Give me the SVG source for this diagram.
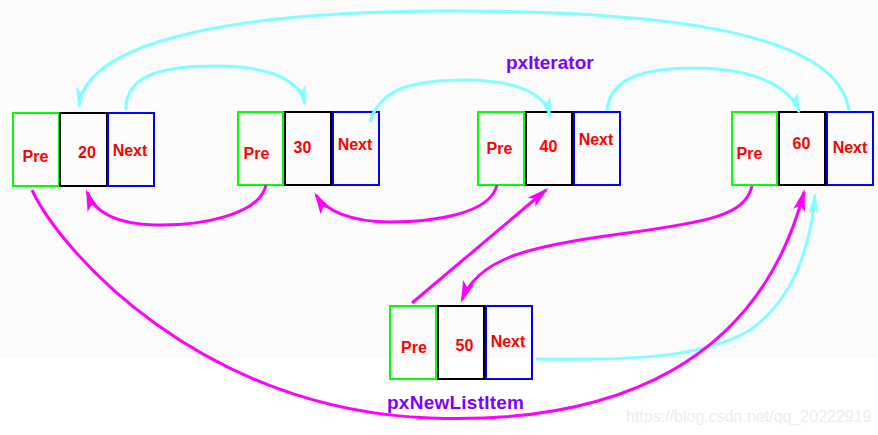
<svg xmlns="http://www.w3.org/2000/svg" width="878" height="435" viewBox="0 0 878 435">
<style>
.pre{fill:none;stroke:#00ff00;stroke-width:2}
.val{fill:none;stroke:#000000;stroke-width:2}
.nxt{fill:none;stroke:#0000ff;stroke-width:2}
.t{font-family:"Liberation Sans",Arial,sans-serif;font-size:16px;font-weight:bold;fill:#ff0000;text-anchor:middle}
.lbl{font-family:"Liberation Sans",Arial,sans-serif;font-size:19px;font-weight:bold;fill:#8000ff}
.wm{font-family:"Liberation Sans",Arial,sans-serif;font-size:16px;fill:#ededed}
.c{fill:none;stroke:#80ffff;stroke-width:3}
.m{fill:none;stroke:#ff00ff;stroke-width:3}
</style>
<defs>
<marker id="ac" viewBox="0 0 22 10" refX="19" refY="5" markerWidth="22" markerHeight="10" markerUnits="userSpaceOnUse" orient="auto">
<path d="M22,5 L0,0 L5,5 L0,10 Z" fill="#80ffff"/>
</marker>
<marker id="am" viewBox="0 0 22 12" refX="19" refY="6" markerWidth="22" markerHeight="12" markerUnits="userSpaceOnUse" orient="auto">
<path d="M22,6 L0,0 L5,6 L0,12 Z" fill="#ff00ff"/>
</marker>
</defs>
<rect x="0" y="0" width="878" height="358" fill="#fbfbfb"/>
<rect x="0" y="358" width="878" height="77" fill="#ffffff"/>
<g id="node20">
<rect class="pre" x="13" y="113" width="46" height="73"/>
<rect class="val" x="60" y="113" width="47" height="73"/>
<rect class="nxt" x="108" y="113" width="46" height="73"/>
<text class="t" x="35.5" y="162">Pre</text>
<text class="t" x="87" y="158">20</text>
<text class="t" x="130" y="156">Next</text>
</g>
<g id="node30">
<rect class="pre" x="238" y="112" width="45" height="73"/>
<rect class="val" x="285" y="112" width="46" height="73"/>
<rect class="nxt" x="333" y="112" width="46" height="73"/>
<text class="t" x="256.5" y="159">Pre</text>
<text class="t" x="302.5" y="153">30</text>
<text class="t" x="355" y="150">Next</text>
</g>
<g id="node40">
<rect class="pre" x="478" y="112" width="46" height="73"/>
<rect class="val" x="526" y="112" width="46" height="73"/>
<rect class="nxt" x="574" y="112" width="46" height="73"/>
<text class="t" x="499.5" y="154">Pre</text>
<text class="t" x="548.5" y="152">40</text>
<text class="t" x="596" y="145">Next</text>
</g>
<g id="node60">
<rect class="pre" x="732" y="112" width="45" height="73"/>
<rect class="val" x="779" y="112" width="46" height="73"/>
<rect class="nxt" x="827" y="112" width="46" height="73"/>
<text class="t" x="749.5" y="159">Pre</text>
<text class="t" x="801.5" y="149">60</text>
<text class="t" x="850" y="153">Next</text>
</g>
<g id="node50">
<rect class="pre" x="390" y="306" width="46" height="73"/>
<rect class="val" x="438" y="306" width="46" height="73"/>
<rect class="nxt" x="486" y="306" width="46" height="73"/>
<text class="t" x="414" y="353">Pre</text>
<text class="t" x="464.5" y="351">50</text>
<text class="t" x="508" y="347">Next</text>
</g>
<g id="labels">
<text class="lbl" x="506" y="69">pxIterator</text>
<text class="lbl" x="387" y="409" textLength="137">pxNewListItem</text>
<text class="wm" x="626" y="422">https://blog.csdn.net/qq_20222919</text>
</g>
<g id="connectors">
<path class="c" d="M849 111 C840 40 700 11 450 11 C200 11 85 50 79 106" marker-end="url(#ac)"/>
<path class="c" d="M126 110 C125 72 170 66 215 66 C270 66 300 80 305 104" marker-end="url(#ac)"/>
<path class="c" d="M370 122 C380 86 420 80 465 80 C520 80 545 95 550 116" marker-end="url(#ac)"/>
<path class="c" d="M607 111 C610 75 650 68 695 68 C750 68 790 85 799 112" marker-end="url(#ac)"/>
<path class="c" d="M536 359 C620 360 700 360 750 330 C800 295 812 232 815 195" marker-end="url(#ac)"/>
<path class="m" d="M266 185 C260 215 200 226 155 225 C120 224 95 215 87 192" marker-end="url(#am)"/>
<path class="m" d="M497 185 C490 215 430 222 390 222 C350 222 325 210 316 195" marker-end="url(#am)"/>
<path class="m" d="M412 303 L546 190" marker-end="url(#am)"/>
<path class="m" d="M752 186 C745 215 710 222 620 234 C530 246 478 258 462 300" marker-end="url(#am)"/>
<path class="m" d="M32 190 C60 250 200 410 430 418 C620 425 760 360 804 192" marker-end="url(#am)"/>
</g>
</svg>
